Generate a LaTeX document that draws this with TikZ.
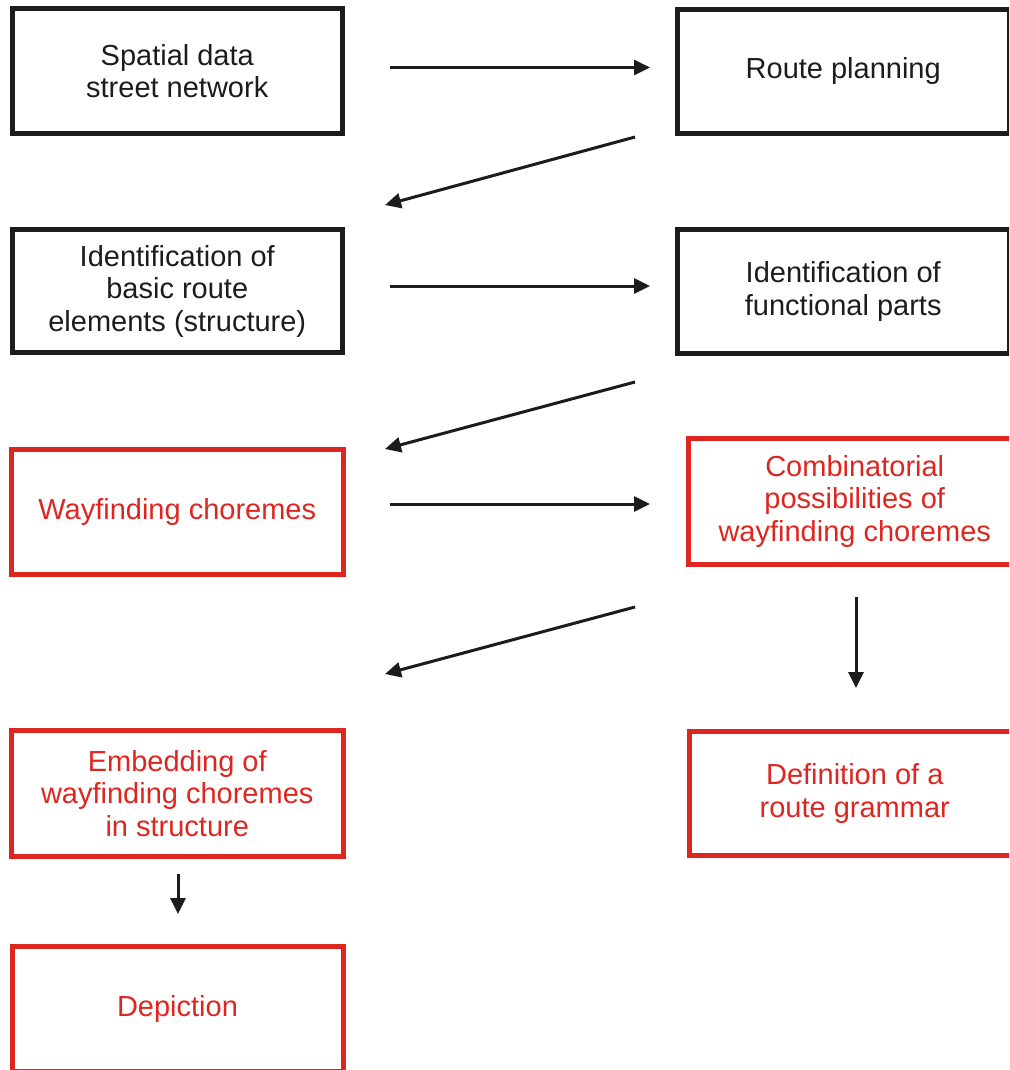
\documentclass[tikz,border=0pt]{standalone}
\usepackage{fontspec}
\setmainfont{Liberation Sans}
\usetikzlibrary{arrows.meta}
\definecolor{boxred}{RGB}{222,38,33}
\definecolor{ink}{RGB}{28,28,28}
\begin{document}
\begin{tikzpicture}[x=1pt,y=-1pt,
  box/.style={draw=ink, line width=5pt, text=ink, inner sep=0pt, align=center,
    font=\fontsize{29}{32.5}\selectfont},
  redbox/.style={box, draw=boxred, text=boxred},
  flow/.style={draw=ink, line width=3pt, -{Triangle[length=16pt,width=15pt]}}]
\useasboundingbox (0,0) rectangle (1009,1070);
\clip (0,0) rectangle (1009,1070);

% process boxes
\node[box, minimum width=330.5pt, minimum height=125pt] (spatial) at (177.25,71)
  {Spatial data\\street network};
\node[box, minimum width=332.5pt, minimum height=124pt] (route) at (843.25,71.5)
  {Route planning};
\node[box, minimum width=330.5pt, minimum height=123pt] (basic) at (177.25,291)
  {Identification of\\basic route\\elements (structure)};
\node[box, minimum width=332.5pt, minimum height=123.5pt] (functional) at (843.25,291.25)
  {Identification of\\functional parts};
\node[redbox, minimum width=331.5pt, minimum height=125.5pt] (chorem) at (177.25,511.75)
  {Wayfinding choremes};
\node[redbox, minimum width=332.5pt, minimum height=125.5pt] (combi) at (854.75,501.25)
  {Combinatorial\\possibilities of\\wayfinding choremes};
\node[redbox, minimum width=331.5pt, minimum height=126pt] (embed) at (177.25,793.5)
  {Embedding of\\wayfinding choremes\\in structure};
\node[redbox, minimum width=330.5pt, minimum height=124pt] (grammar) at (854.75,793.5)
  {Definition of a\\route grammar};
\node[redbox, minimum width=331pt, minimum height=125pt] (depict) at (177.5,1009)
  {Depiction};

% free-floating arrow ends
\coordinate (h1s) at (390,67.5);  \coordinate (h1e) at (650,67.5);
\coordinate (d1s) at (635,137);   \coordinate (d1e) at (385,205);
\coordinate (h2s) at (390,286);   \coordinate (h2e) at (650,286);
\coordinate (d2s) at (635,382);   \coordinate (d2e) at (385,449);
\coordinate (h3s) at (390,504);   \coordinate (h3e) at (650,504);
\coordinate (d3s) at (635,607);   \coordinate (d3e) at (385,674);
\coordinate (v1s) at (856,597);   \coordinate (v1e) at (856,688);
\coordinate (v2s) at (178,874);   \coordinate (v2e) at (178,914);

\draw[flow] (h1s) -- (h1e);
\draw[flow] (d1s) -- (d1e);
\draw[flow] (h2s) -- (h2e);
\draw[flow] (d2s) -- (d2e);
\draw[flow] (h3s) -- (h3e);
\draw[flow] (d3s) -- (d3e);
\draw[flow] (v1s) -- (v1e);
\draw[flow] (v2s) -- (v2e);
\end{tikzpicture}
\end{document}
